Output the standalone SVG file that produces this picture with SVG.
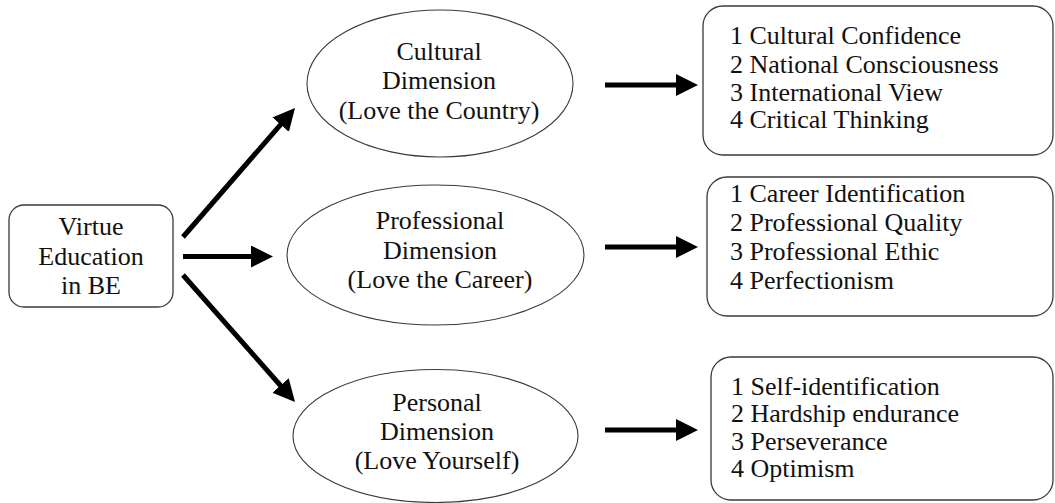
<svg xmlns="http://www.w3.org/2000/svg" width="1055" height="503" viewBox="0 0 1055 503">
  <style>
    .box { fill: #ffffff; stroke: #3a3a3a; stroke-width: 1.3; }
    .oval { fill: #ffffff; stroke: #3a3a3a; stroke-width: 1.1; }
    .lbl { font-family: "Liberation Serif", "Times New Roman", serif; font-size: 26px; fill: #111111; }
    .mid { text-anchor: middle; }
    .arrow { stroke: #000000; stroke-width: 5; fill: none; marker-end: url(#head); }
  </style>
  <defs>
    <marker id="head" markerUnits="userSpaceOnUse" markerWidth="22" markerHeight="22" refX="2" refY="11" orient="auto">
      <path d="M0,0 L22,11 L0,22 z" fill="#000000"/>
    </marker>
  </defs>
  <rect width="1055" height="503" fill="#ffffff"/>

  <!-- root node -->
  <g id="virtue-education">
    <rect class="box" x="9" y="205" width="164" height="102" rx="15" ry="15"/>
    <text class="lbl mid" x="91" y="235">Virtue</text>
    <text class="lbl mid" x="91" y="265">Education</text>
    <text class="lbl mid" x="91" y="294">in BE</text>
  </g>

  <!-- dimensions -->
  <g id="cultural-dimension">
    <ellipse class="oval" cx="440" cy="83.5" rx="133" ry="73.5"/>
    <text class="lbl mid" x="439" y="60">Cultural</text>
    <text class="lbl mid" x="439" y="89">Dimension</text>
    <text class="lbl mid" x="439" y="119">(Love the Country)</text>
  </g>
  <g id="professional-dimension">
    <ellipse class="oval" cx="435.5" cy="255" rx="148.5" ry="70"/>
    <text class="lbl mid" x="440" y="229">Professional</text>
    <text class="lbl mid" x="440" y="259">Dimension</text>
    <text class="lbl mid" x="440" y="288">(Love the Career)</text>
  </g>
  <g id="personal-dimension">
    <ellipse class="oval" cx="435.5" cy="436" rx="142.5" ry="66.5"/>
    <text class="lbl mid" x="437" y="411">Personal</text>
    <text class="lbl mid" x="437" y="440">Dimension</text>
    <text class="lbl mid" x="437" y="469">(Love Yourself)</text>
  </g>

  <!-- outcome lists -->
  <g id="cultural-items">
    <rect class="box" x="703" y="6" width="350" height="149" rx="20" ry="20"/>
    <text class="lbl" x="730" y="44">1 Cultural Confidence</text>
    <text class="lbl" x="730" y="73">2 National Consciousness</text>
    <text class="lbl" x="730" y="101">3 International View</text>
    <text class="lbl" x="730" y="128">4 Critical Thinking</text>
  </g>
  <g id="professional-items">
    <rect class="box" x="707" y="177" width="346" height="139" rx="20" ry="20"/>
    <text class="lbl" x="730" y="202">1 Career Identification</text>
    <text class="lbl" x="730" y="231">2 Professional Quality</text>
    <text class="lbl" x="730" y="260">3 Professional Ethic</text>
    <text class="lbl" x="730" y="289">4 Perfectionism</text>
  </g>
  <g id="personal-items">
    <rect class="box" x="711" y="357" width="342" height="143" rx="20" ry="20"/>
    <text class="lbl" x="731" y="395">1 Self-identification</text>
    <text class="lbl" x="731" y="422">2 Hardship endurance</text>
    <text class="lbl" x="731" y="450">3 Perseverance</text>
    <text class="lbl" x="731" y="477">4 Optimism</text>
  </g>

  <!-- connectors -->
  <g id="connectors">
    <line class="arrow" x1="183" y1="237" x2="281.9" y2="123.1"/>
    <line class="arrow" x1="183" y1="256.5" x2="253" y2="256.5"/>
    <line class="arrow" x1="183" y1="275" x2="281.8" y2="387"/>
    <line class="arrow" x1="605" y1="85" x2="678" y2="85"/>
    <line class="arrow" x1="605" y1="247" x2="678" y2="247"/>
    <line class="arrow" x1="605" y1="430" x2="678" y2="430"/>
  </g>
</svg>
